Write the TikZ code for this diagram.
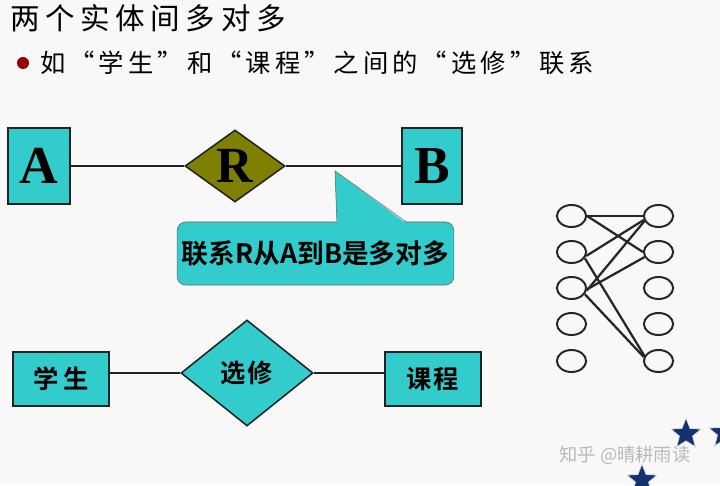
\documentclass[tikz,border=0pt]{standalone}
\usepackage{fontspec}
\usepackage{tikz}
\usetikzlibrary{positioning,shapes.geometric,calc}
\newfontfamily\cjk{Noto Sans CJK SC}
\newfontfamily\cjkbold{Noto Sans CJK SC Bold}
\newfontfamily\tnr{Liberation Serif}
\definecolor{boxcyan}{RGB}{51,204,204}
\definecolor{relolive}{RGB}{128,128,0}
\definecolor{edgedark}{RGB}{30,36,36}
\definecolor{bulletred}{RGB}{150,0,0}
\definecolor{starblue}{RGB}{20,50,110}
\definecolor{paper}{RGB}{248,248,248}

\begin{document}
\begin{tikzpicture}[
    x=0.025cm,y=-0.025cm,
    ent/.style={draw=edgedark,line width=1.5pt,fill=boxcyan,inner sep=0pt},
    rel/.style={diamond,draw=edgedark,line width=1.1pt,inner sep=0pt},
    link/.style={draw=edgedark,line width=1.4pt},
    dot/.style={ellipse,draw=black!85,line width=1.4pt,minimum width=0.73cm,minimum height=0.55cm,inner sep=0pt},
    pair/.style={draw=black!85,line width=1.6pt},
    star5/.style={star,star points=5,star point ratio=2.3,fill=starblue,draw=white!75!gray,line width=0.6pt,inner sep=0pt,minimum size=0.8cm}
  ]
    \fill[paper] (0,0) rectangle (720,485);
    \useasboundingbox (0,0) rectangle (720,485);

    % heading
    \node[anchor=west,inner sep=0pt] (title) at (10,18) {\fontsize{21}{24}\cjk\addfontfeature{LetterSpace=19}两个实体间多对多};
    \node[circle,fill=bulletred,minimum size=0.3cm,inner sep=0pt] (bullet) at (23,63) {};
    \node[anchor=west,inner sep=0pt] (example) at (40,63) {\fontsize{18}{22}\cjk\addfontfeature{LetterSpace=16}如“学生”和“课程”之间的“选修”联系};

    % abstract A -- R -- B
    \node[ent,minimum width=1.55cm,minimum height=1.9cm] (A) at (39,166) {\fontsize{38}{40}\tnr\bfseries A};
    \node[ent,minimum width=1.5cm,minimum height=1.92cm] (B) at (432,166) {\fontsize{38}{40}\tnr\bfseries B};
    \node[rel,fill=relolive,minimum width=2.5cm,minimum height=1.8cm] (R) at (235,166) {\fontsize{36}{38}\tnr\bfseries R};
    \draw[link] (A) -- (R);
    \draw[link] (R) -- (B);

    % callout
    \node[draw=black!60,fill=boxcyan,rounded corners=6pt,minimum width=6.875cm,minimum height=1.575cm] (note) at (315.5,253.5) {\fontsize{19}{22}\cjkbold 联系R从A到B是多对多};
    \coordinate (tip) at (335,171);
    \fill[boxcyan] (tip) -- ($(note.north west)+(160,1.5)$) -- ($(note.north west)+(229,1.5)$) -- cycle;
    \draw[black!60] ($(note.north west)+(160,0)$) -- (tip) -- ($(note.north west)+(229,0)$);

    % student -- course
    \node[ent,minimum width=2.4cm,minimum height=1.35cm] (stu) at (61,379) {\fontsize{18}{22}\cjkbold\addfontfeature{LetterSpace=20}学生};
    \node[rel,fill=boxcyan,minimum width=3.3cm,minimum height=2.65cm] (sel) at (247,373) {\fontsize{18}{22}\cjkbold\addfontfeature{LetterSpace=8}选修};
    \node[ent,minimum width=2.4cm,minimum height=1.35cm] (crs) at (433,379) {\fontsize{18}{22}\cjkbold\addfontfeature{LetterSpace=8}课程};
    \draw[link] (stu.east |- sel) -- (sel);
    \draw[link] (sel) -- (crs.west |- sel);

    % many-to-many sets
    \foreach \i/\y in {1/216,2/252,3/288,4/324,5/361} {
      \node[dot] (l\i) at (571.5,\y) {};
      \node[dot] (r\i) at (658.5,\y) {};
    }
    \draw[pair] (l1.east) -- (r1.west);
    \draw[pair] (l1.east) -- (r2.west);
    \draw[pair] (l2.-15) -- (r1.195);
    \draw[pair] (l2.-25) -- (r5.160);
    \draw[pair] (l3.-10) -- (r1.200);
    \draw[pair] (l3.-5) -- (r2.200);
    \draw[pair] (l3.-25) -- (r5.165);

    % watermark
    \node[text=gray!55,inner sep=0pt] (mark) at (625,455) {\fontsize{13}{15}\cjk 知乎 @晴耕雨读};
    \node[star5] (s1) at (686,434) {};
    \node[star5] (s2) at (724,433) {};
    \node[star5] (s3) at (642,480) {};
  \end{tikzpicture}
\end{document}
